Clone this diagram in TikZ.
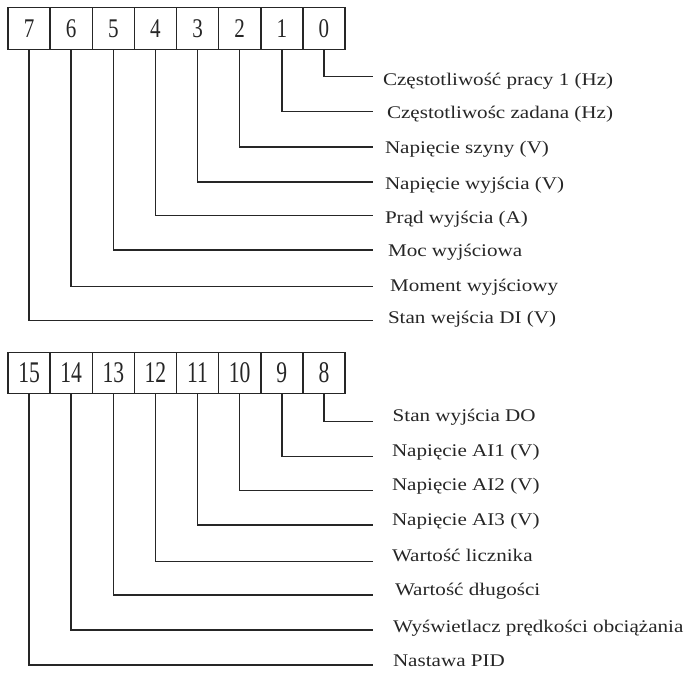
\documentclass[tikz,border=0pt]{standalone}
\usepackage{graphicx}
\usepackage{fontspec}
\setmainfont{Liberation Serif}
\newcommand\stretchlab[1]{\scalebox{1.185}[1]{#1}}
\begin{document}
\begin{tikzpicture}[x=1pt,y=-1pt,
  cellbox/.style={draw=black!85, line width=1.5pt, minimum width=42.125pt, inner sep=0pt, outer sep=0pt},
  topcell/.style={cellbox, minimum height=42pt},
  botcell/.style={cellbox, minimum height=40.6pt},
  topdigit/.style={font=\fontsize{27}{30}\selectfont, text=black!85},
  botdigit/.style={font=\fontsize{30}{32}\selectfont, text=black!85},
  wire/.style={draw=black!85, line width=1.5pt},
  lab/.style={anchor=base west, inner sep=0pt, outer sep=0pt, text=black!85, font=\fontsize{17.8}{20}\selectfont}
]
\useasboundingbox (0,0) rectangle (690,673);
% top register cells: bit 7 ... 0
\foreach \b [count=\i from 0] in {7,6,5,4,3,2,1,0}{
  \node[topcell] (t\b) at ({8+42.125*(\i+0.5)},28.5) {};
  \node[topdigit] (td\b) at (t\b.center) {\scalebox{0.78}[1]{\b}};
}
% bottom register cells: bit 15 ... 8
\foreach \b [count=\i from 0] in {15,14,13,12,11,10,9,8}{
  \node[botcell] (t\b) at ({8+42.125*(\i+0.5)},373) {};
  \node[botdigit] (td\b) at (t\b.center) {\scalebox{0.72}[1]{\b}};
}
% wire ends
\foreach \b/\y in {0/76.7,1/111.7,2/147,3/182,4/215.5,5/250,6/286.5,7/320.5,
                   8/421.7,9/456.7,10/490.7,11/525,12/561.7,13/595,14/630,15/665}{
  \coordinate (e\b) at (373,\y);
  \draw[wire] (t\b.south) |- (e\b);
}
% labels
\node[lab] (l0) at (383,85) {\stretchlab{Częstotliwość pracy 1 (Hz)}};
\node[lab] (l1) at (387,118) {\stretchlab{Częstotliwośc zadana (Hz)}};
\node[lab] (l2) at (385,153) {\stretchlab{Napięcie szyny (V)}};
\node[lab] (l3) at (385,189) {\stretchlab{Napięcie wyjścia (V)}};
\node[lab] (l4) at (385,223) {\stretchlab{Prąd wyjścia (A)}};
\node[lab] (l5) at (388,256) {\stretchlab{Moc wyjściowa}};
\node[lab] (l6) at (390,291) {\stretchlab{Moment wyjściowy}};
\node[lab] (l7) at (388,323) {\stretchlab{Stan wejścia DI (V)}};
\node[lab] (l8) at (392.7,421.7) {\stretchlab{Stan wyjścia DO}};
\node[lab] (l9) at (392,456.7) {\stretchlab{Napięcie AI1 (V)}};
\node[lab] (l10) at (392,490.7) {\stretchlab{Napięcie AI2 (V)}};
\node[lab] (l11) at (392,525) {\stretchlab{Napięcie AI3 (V)}};
\node[lab] (l12) at (392,561.7) {\stretchlab{Wartość licznika}};
\node[lab] (l13) at (395,595) {\stretchlab{Wartość długości}};
\node[lab] (l14) at (393,632) {\stretchlab{Wyświetlacz prędkości obciążania}};
\node[lab] (l15) at (393,666) {\stretchlab{Nastawa PID}};
\end{tikzpicture}
\end{document}
